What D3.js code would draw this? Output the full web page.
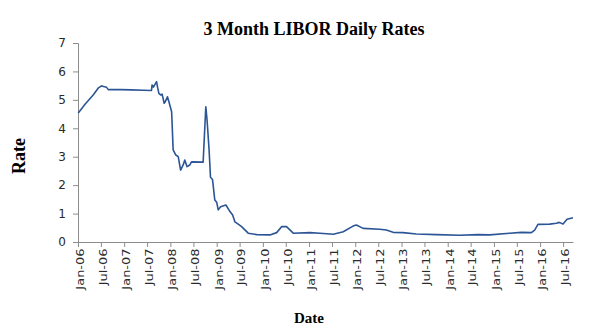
<!DOCTYPE html>
<html>
<head>
<meta charset="utf-8">
<script src="https://cdn.jsdelivr.net/npm/d3@7"></script>
<style>
  html, body { margin: 0; padding: 0; background: #fff; }
  svg { display: block; }
</style>
</head>
<body>
<svg id="chart" width="599" height="336"></svg>
<script>
// 3-month LIBOR fixings (percent), sampled at the turning points of the series
const dates = [
  "2006-01-03","2006-03-01","2006-05-01","2006-06-09","2006-07-06","2006-08-15","2006-08-28",
  "2006-12-01","2007-03-01","2007-06-01","2007-08-05","2007-08-09","2007-08-20","2007-09-14",
  "2007-09-22","2007-10-02","2007-10-18","2007-10-28","2007-11-13","2007-11-22","2007-12-09",
  "2007-12-20","2008-01-11","2008-01-23","2008-02-13","2008-03-03","2008-03-22","2008-04-11",
  "2008-04-24","2008-05-12","2008-06-03","2008-06-16","2008-09-16","2008-10-07","2008-10-17",
  "2008-11-02","2008-11-13","2008-11-29","2008-12-17","2009-01-01","2009-01-13","2009-02-01",
  "2009-03-15","2009-04-16","2009-05-07","2009-05-25","2009-06-20","2009-07-17","2009-09-07",
  "2009-11-13","2010-02-26","2010-04-20","2010-05-29","2010-07-07","2010-08-29","2011-01-08",
  "2011-03-28","2011-07-11","2011-09-28","2011-12-15","2012-01-10","2012-03-03","2012-07-12",
  "2012-09-03","2012-10-26","2013-01-13","2013-04-28","2013-10-03","2014-04-05","2014-08-28",
  "2014-11-28","2015-05-05","2015-08-06","2015-10-24","2015-11-19","2015-12-15","2016-03-17",
  "2016-05-09","2016-05-30","2016-06-30","2016-08-01","2016-09-17"
];
const rates = [
  4.54, 4.86, 5.17, 5.41, 5.49, 5.44, 5.36,
  5.36, 5.35, 5.34, 5.33, 5.52, 5.45, 5.64,
  5.44, 5.23, 5.17, 5.20, 4.88, 4.94, 5.11,
  4.94, 4.58, 3.24, 3.06, 3.00, 2.53, 2.71,
  2.88, 2.65, 2.71, 2.82, 2.81, 4.76, 4.29,
  3.24, 2.28, 2.20, 1.48, 1.40, 1.13, 1.24,
  1.30, 1.07, 0.95, 0.71, 0.63, 0.54, 0.31,
  0.26, 0.25, 0.33, 0.54, 0.54, 0.31, 0.33,
  0.31, 0.27, 0.36, 0.56, 0.60, 0.48, 0.45,
  0.42, 0.34, 0.33, 0.28, 0.26, 0.24, 0.26,
  0.25, 0.31, 0.34, 0.33, 0.42, 0.62, 0.63,
  0.66, 0.69, 0.63, 0.80, 0.85
];
const yTicks = [0, 1, 2, 3, 4, 5, 6, 7];
const xTickDates = [
  "2006-01-01","2006-07-01","2007-01-01","2007-07-01","2008-01-01","2008-07-01",
  "2009-01-01","2009-07-01","2010-01-01","2010-07-01","2011-01-01","2011-07-01",
  "2012-01-01","2012-07-01","2013-01-01","2013-07-01","2014-01-01","2014-07-01",
  "2015-01-01","2015-07-01","2016-01-01","2016-07-01"
];
const titleText = "3 Month LIBOR Daily Rates";
const xTitle = "Date";
const yTitle = "Rate";

const parse = d3.utcParse("%Y-%m-%d");
const series = dates.map((d, i) => ({ date: parse(d), value: rates[i] }));

const svg = d3.select("#chart");
const plotLeft = 78, plotRight = 573, plotTop = 43, plotBottom = 242;

const x = d3.scaleUtc()
  .domain([parse("2006-01-01"), parse("2016-09-17")])
  .range([plotLeft, plotRight]);
const y = d3.scaleLinear().domain([0, 7]).range([plotBottom, plotTop]);

const axisColor = "#8c8c8c";
const labelColor = "#2a2a2a";

// y axis
const yAxis = svg.append("g")
  .attr("transform", `translate(${plotLeft},0)`)
  .call(d3.axisLeft(y).tickValues(yTicks).tickSize(5).tickPadding(7).tickFormat(d3.format("d")));
yAxis.select(".domain").attr("stroke", axisColor);
yAxis.selectAll(".tick line").attr("stroke", axisColor);
yAxis.selectAll(".tick text")
  .attr("fill", labelColor)
  .style("font-family", "'DejaVu Sans', Verdana, sans-serif")
  .style("font-size", "12px");

// x axis with rotated month labels
const fmt = d3.utcFormat("%b-%y");
const xAxis = svg.append("g")
  .attr("transform", `translate(0,${plotBottom})`)
  .call(d3.axisBottom(x).tickValues(xTickDates.map(parse)).tickSize(5).tickSizeOuter(0).tickFormat(fmt));
xAxis.select(".domain").attr("stroke", axisColor);
xAxis.selectAll(".tick line").attr("stroke", axisColor);
xAxis.selectAll(".tick text")
  .attr("fill", labelColor)
  .style("font-family", "'DejaVu Sans', Verdana, sans-serif")
  .style("font-size", "11px")
  .attr("text-anchor", "end")
  .attr("dy", "0.35em")
  .attr("transform", "translate(1.5,0) rotate(-90) scale(1.18,1)")
  .attr("x", -5.5)
  .attr("y", 0);

// rate line
const line = d3.line().x(d => x(d.date)).y(d => y(d.value));
svg.append("path")
  .datum(series)
  .attr("fill", "none")
  .attr("stroke", "#2c5596")
  .attr("stroke-width", 1.6)
  .attr("stroke-linejoin", "round")
  .attr("d", line);

// titles
svg.append("text")
  .attr("x", 314).attr("y", 35)
  .attr("text-anchor", "middle")
  .style("font-family", "'Liberation Serif', 'Times New Roman', serif")
  .style("font-weight", "bold")
  .style("font-size", "18px")
  .text(titleText);

svg.append("text")
  .attr("x", 309).attr("y", 323)
  .attr("text-anchor", "middle")
  .style("font-family", "'Liberation Serif', 'Times New Roman', serif")
  .style("font-weight", "bold")
  .style("font-size", "15px")
  .text(xTitle);

svg.append("text")
  .attr("transform", "translate(25,156) rotate(-90)")
  .attr("text-anchor", "middle")
  .style("font-family", "'Liberation Serif', 'Times New Roman', serif")
  .style("font-weight", "bold")
  .style("font-size", "18px")
  .text(yTitle);
</script>
</body>
</html>
